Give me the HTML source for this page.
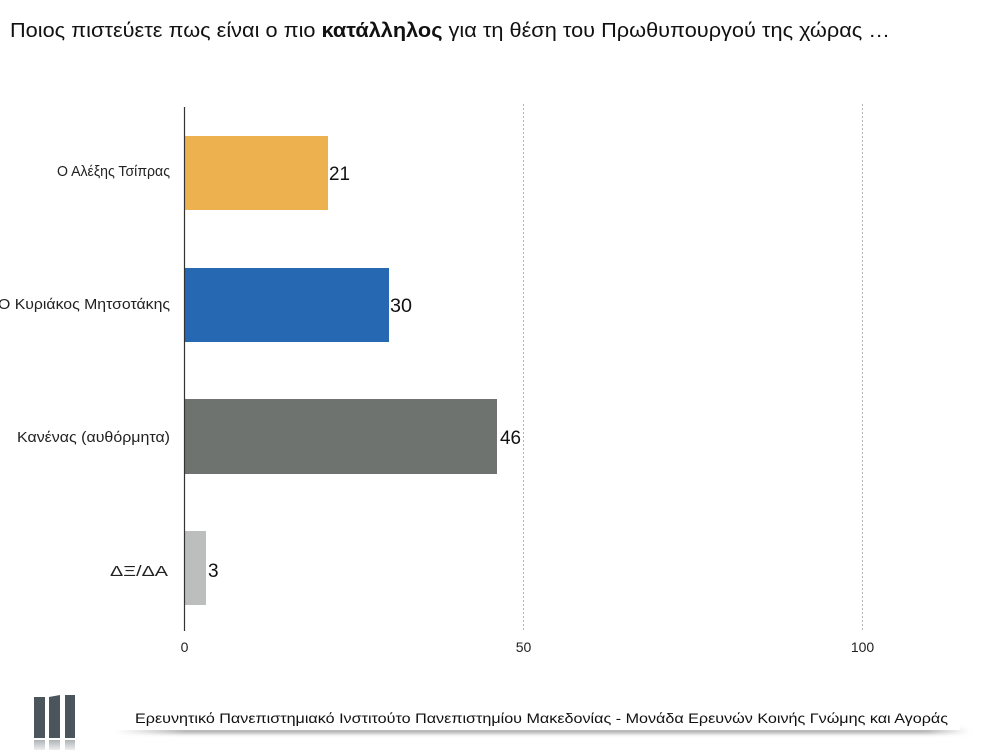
<!DOCTYPE html>
<html>
<head>
<meta charset="utf-8">
<style>
  html,body{margin:0;padding:0;background:#fff;}
  svg{display:block;}
  text{font-family:"Liberation Sans","DejaVu Sans",sans-serif;}
</style>
</head>
<body>
<svg width="999" height="750" viewBox="0 0 999 750" xmlns="http://www.w3.org/2000/svg">
  <defs>
    <filter id="blur" x="-10%" y="-200%" width="120%" height="500%">
      <feGaussianBlur stdDeviation="2.2"/>
    </filter>
    <linearGradient id="shd" x1="0" x2="1" y1="0" y2="0">
      <stop offset="0" stop-color="#999" stop-opacity="0"/>
      <stop offset="0.08" stop-color="#888" stop-opacity="0.9"/>
      <stop offset="0.95" stop-color="#888" stop-opacity="0.9"/>
      <stop offset="1" stop-color="#999" stop-opacity="0"/>
    </linearGradient>
    <linearGradient id="refl" x1="0" x2="0" y1="0" y2="1">
      <stop offset="0" stop-color="#9aa0a4"/>
      <stop offset="1" stop-color="#e8eaeb"/>
    </linearGradient>
  </defs>
  <rect width="999" height="750" fill="#fff"/>

  <!-- Title -->
  <text x="10" y="37" font-size="20" fill="#111" textLength="880" lengthAdjust="spacingAndGlyphs">Ποιος πιστεύετε πως είναι ο πιο <tspan font-weight="bold">κατάλληλος</tspan> για τη θέση του Πρωθυπουργού της χώρας …</text>

  <!-- Gridlines -->
  <line x1="523.5" y1="104" x2="523.5" y2="632" stroke="#b5b5b5" stroke-width="1" stroke-dasharray="2,2"/>
  <line x1="862.5" y1="104" x2="862.5" y2="632" stroke="#b5b5b5" stroke-width="1" stroke-dasharray="2,2"/>

  <!-- Bars -->
  <rect x="185" y="136" width="143" height="74" fill="#EEB150"/>
  <rect x="185" y="268" width="204" height="74" fill="#2668B2"/>
  <rect x="185" y="399" width="312" height="75" fill="#6E7370"/>
  <rect x="185" y="531" width="21" height="74" fill="#BBBEBC"/>

  <!-- Axis -->
  <line x1="184.5" y1="107" x2="184.5" y2="631" stroke="#333" stroke-width="1.2"/>

  <!-- Value labels -->
  <text x="329" y="180" font-size="19" fill="#111" textLength="21" lengthAdjust="spacingAndGlyphs">21</text>
  <text x="390" y="312" font-size="19" fill="#111" textLength="22" lengthAdjust="spacingAndGlyphs">30</text>
  <text x="500" y="444" font-size="19" fill="#111" textLength="21" lengthAdjust="spacingAndGlyphs">46</text>
  <text x="208" y="577" font-size="19" fill="#111">3</text>

  <!-- Category labels -->
  <text x="57" y="176" font-size="15" fill="#222" textLength="113" lengthAdjust="spacingAndGlyphs">Ο Αλέξης Τσίπρας</text>
  <text x="-2" y="309" font-size="15" fill="#222" textLength="172" lengthAdjust="spacingAndGlyphs">Ο Κυριάκος Μητσοτάκης</text>
  <text x="17" y="442" font-size="15" fill="#222" textLength="153" lengthAdjust="spacingAndGlyphs">Κανένας (αυθόρμητα)</text>
  <text x="110" y="576" font-size="15" fill="#222" textLength="58" lengthAdjust="spacingAndGlyphs">ΔΞ/ΔΑ</text>

  <!-- Tick labels -->
  <text x="184.5" y="652" font-size="14" fill="#222" text-anchor="middle">0</text>
  <text x="523.5" y="652" font-size="14" fill="#222" text-anchor="middle">50</text>
  <text x="862.5" y="652" font-size="14" fill="#222" text-anchor="middle">100</text>

  <!-- Footer shadow -->
  <rect x="115" y="729" width="855" height="4" fill="url(#shd)" filter="url(#blur)"/>
  <rect x="110" y="700" width="850" height="30" fill="#fff"/>

  <!-- Footer text -->
  <text x="135" y="723" font-size="14" fill="#111" textLength="813" lengthAdjust="spacingAndGlyphs">Ερευνητικό Πανεπιστημιακό Ινστιτούτο Πανεπιστημίου Μακεδονίας - Μονάδα Ερευνών Κοινής Γνώμης και Αγοράς</text>

  <!-- Logo -->
  <polygon points="34,697 45,697 45,738 34,738" fill="#4b565c"/>
  <polygon points="49,697 60,695 60,738 49,738" fill="#4b565c"/>
  <polygon points="65,695 75,695 75,738 65,738" fill="#4b565c"/>
  <rect x="34" y="740" width="11" height="10" fill="url(#refl)" opacity="0.8"/>
  <rect x="49" y="740" width="11" height="10" fill="url(#refl)" opacity="0.8"/>
  <rect x="65" y="740" width="10" height="10" fill="url(#refl)" opacity="0.8"/>
</svg>
</body>
</html>
